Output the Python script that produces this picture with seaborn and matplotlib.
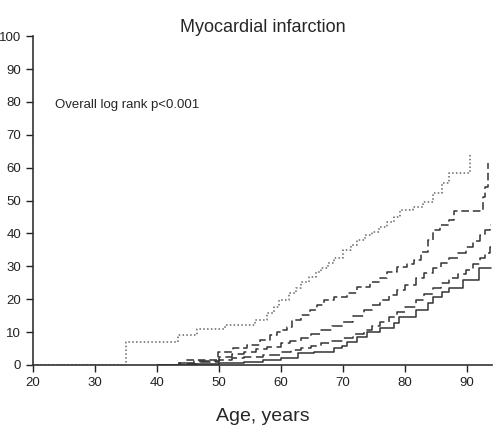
import pandas as pd
import seaborn as sns
import matplotlib.pyplot as plt

# ----------------------
# Data (age, %)
# ----------------------
ages_dot = [20, 35, 43.4, 46.4, 51, 55.8, 56.3, 57.7, 58.8, 59.6, 61.2, 62.4, 63.2, 64.5, 65.6, 66.4,
            67.5, 68.6, 70, 71.2, 72.2, 73.5, 74.6, 75.8, 77, 78.2, 79.2, 81.2, 82.9, 84.5, 85.9, 87, 90.5]
vals_dot = [0, 7.1, 9.1, 10.8, 12.2, 13.7, 13.7, 15.7, 17.7, 19.8, 21.8, 23.3, 25.3, 26.8, 28.4, 29.4,
            31.0, 32.4, 35.0, 36.5, 38.0, 39.5, 40.5, 42.0, 43.5, 45.0, 47.1, 48.0, 49.6, 52.2, 55.2, 58.3, 64.4]

ages_d1 = [40, 43.5, 44.5, 49.9, 52.3, 54.5, 56.6, 58.2, 59.3, 60, 61, 61.8, 63.2, 64.7, 65.8, 66.9,
           68.5, 70.6, 72.2, 74.4, 76, 77.1, 78.7, 80.3, 81.4, 82.5, 83.6, 84.5, 85.6, 87, 87.8, 92.5, 92.9, 93.4]
vals_d1 = [0, 0.7, 1.5, 4.0, 5.1, 6.1, 7.6, 9.1, 10.1, 10.6, 11.6, 13.7, 15.2, 16.7, 18.2, 19.8,
           20.8, 21.8, 23.8, 25.3, 26.3, 28.4, 29.9, 30.8, 31.9, 34.4, 38.0, 41.0, 42.5, 44.0, 46.8, 51.2, 54.2, 61.3]

ages_d2 = [40, 43.5, 46, 50, 52, 54, 56, 57.7, 60, 61.5, 63.2, 64.8, 66.4, 68.2, 70, 71.6, 73.3, 74.7,
           76, 77.4, 78.7, 80, 81.7, 83.1, 84.5, 85.8, 87.1, 88.5, 89.8, 91, 92, 92.8, 93.6, 93.8]
vals_d2 = [0, 0.5, 1.2, 2.5, 3.2, 4.0, 4.8, 5.6, 6.6, 7.3, 8.1, 9.3, 10.6, 11.9, 13.2, 15.0, 16.7, 18.2,
           19.8, 21.3, 22.8, 24.3, 26.4, 27.9, 29.4, 30.9, 32.4, 34.2, 36.0, 37.7, 39.5, 41.0, 42.5, 42.5]

ages_d3 = [40, 44, 47, 50, 52, 54, 57, 60, 61.6, 63.2, 64.8, 66.4, 68.2, 70, 71.6, 73.3, 74.7, 76,
           77.4, 78.7, 80, 81.7, 83.1, 84.5, 85.8, 87.1, 88.5, 89.8, 91, 92, 92.8, 93.6, 93.8]
vals_d3 = [0, 0.4, 0.9, 1.5, 2.0, 2.5, 3.0, 4.0, 4.5, 5.1, 5.8, 6.6, 7.3, 8.1, 9.3, 10.6, 11.9, 13.2,
           14.7, 16.2, 17.7, 19.8, 21.5, 23.3, 24.8, 26.4, 27.7, 28.9, 30.7, 32.4, 34.2, 36.0, 36.0]

ages_sol = [40, 45, 50, 54, 57, 60, 62.7, 65.3, 68.5, 69.8, 70.6, 72.2, 73.8, 76, 78.2, 79, 81.7,
            83.6, 84.5, 85.9, 87, 89.4, 91.9, 93.8]
vals_sol = [0, 0.2, 0.5, 1.0, 1.5, 2.1, 3.5, 4.0, 5.1, 5.8, 7.1, 8.6, 10.1, 11.1, 12.7, 14.6, 16.7,
            18.8, 20.8, 22.3, 23.3, 25.8, 29.4, 29.4]

groups = ["dotted", "dash1", "dash2", "dash3", "solid"]
series = [(ages_dot, vals_dot), (ages_d1, vals_d1), (ages_d2, vals_d2),
          (ages_d3, vals_d3), (ages_sol, vals_sol)]

df = pd.concat([pd.DataFrame({"age": a, "pct": v, "group": g})
                for g, (a, v) in zip(groups, series)], ignore_index=True)

# ----------------------
# Plot
# ----------------------
sns.set_style("ticks")
plt.rcParams['font.family'] = ['Liberation Sans', 'DejaVu Sans']

fig = plt.figure(figsize=(4.93, 4.36), dpi=100)
ax = fig.add_axes([0.067, 0.163, 0.931, 0.754])

dashes = {"dotted": (1, 1.5), "dash1": (5, 2.5), "dash2": (7, 3), "dash3": (7, 3), "solid": ""}
sns.lineplot(data=df, x="age", y="pct", hue="group", style="group", dashes=dashes,
             palette=["#666666", "#333333", "#333333", "#333333", "#333333"],
             drawstyle="steps-post", linewidth=1.1, sort=False, estimator=None,
             legend=False, ax=ax)

ax.set_xlim(20, 94)
ax.set_ylim(0, 100)
ax.set_xticks(range(20, 91, 10))
ax.set_yticks(range(0, 101, 10))
ax.tick_params(labelsize=9.5, colors="#222222", length=5, width=1)
for s in ["left", "bottom"]:
    ax.spines[s].set_color("#333333")
    ax.spines[s].set_linewidth(1.2)
sns.despine(ax=ax)

ax.set_xlabel("Age, years", fontsize=14, labelpad=14)
ax.set_ylabel("")
ax.set_title("Myocardial infarction", fontsize=13, pad=2)
ax.text(23.5, 78.3, "Overall log rank p<0.001", fontsize=9.5)

fig.savefig("out.png", dpi=100)
